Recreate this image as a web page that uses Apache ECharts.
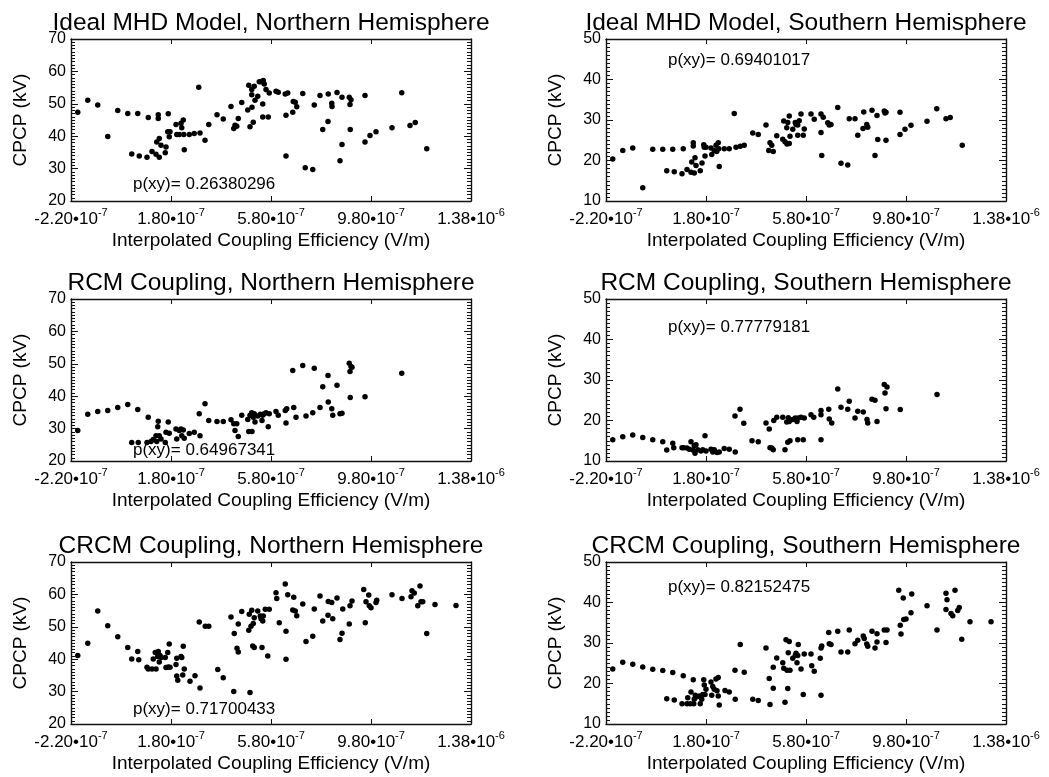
<!DOCTYPE html>
<html><head><meta charset="utf-8">
<script src="https://cdn.jsdelivr.net/npm/echarts@6/dist/echarts.min.js"></script>
<style>html,body{margin:0;padding:0;background:#fff}#c{width:1049px;height:777px}</style>
</head><body><div id="c"></div>
<script>
// x values are given in units of 1e-7 V/m
const X_UNIT = 1e-7;
const xTickValues = [-2.2, 1.8, 5.8, 9.8, 13.8];
const xTickMantissa = ['-2.20', '1.80', '5.80', '9.80', '1.38'];
const xTickExponent = ['-7', '-7', '-7', '-7', '-6'];
const yTicksNorth = [20, 30, 40, 50, 60, 70];
const yTicksSouth = [10, 20, 30, 40, 50];

const panelTitles = [
  'Ideal MHD Model, Northern Hemisphere', 'Ideal MHD Model, Southern Hemisphere',
  'RCM Coupling, Northern Hemisphere', 'RCM Coupling, Southern Hemisphere',
  'CRCM Coupling, Northern Hemisphere', 'CRCM Coupling, Southern Hemisphere'
];
const pLabels = ['0.26380296', '0.69401017', '0.64967341', '0.77779181', '0.71700433', '0.82152475'];
const xAxisName = 'Interpolated Coupling Efficiency (V/m)';
const yAxisName = 'CPCP (kV)';

const mhdNorth = [[-1.93,47.4],[-1.53,51.1],[-1.13,49.6],[-0.73,39.9],[-0.33,47.9],[0.07,47.0],[0.23,34.5],[0.47,47.0],[0.53,33.9],[0.84,33.5],[0.89,45.8],[1.04,35.3],[1.2,34.4],[1.23,38.2],[1.29,46.6],[1.29,45.5],[1.33,33.5],[1.33,39.3],[1.4,37.2],[1.57,34.9],[1.6,36.7],[1.67,41.4],[1.69,46.9],[1.73,39.8],[1.76,41.4],[2.0,43.6],[2.03,40.5],[2.13,40.5],[2.2,44.0],[2.23,42.6],[2.29,45.0],[2.31,40.5],[2.33,35.8],[2.53,40.5],[2.73,40.8],[2.91,55.1],[2.96,41.0],[3.16,38.75],[3.31,43.6],[3.64,46.6],[3.89,45.3],[4.2,49.2],[4.31,42.4],[4.36,43.4],[4.43,43.1],[4.49,45.5],[4.63,50.4],[4.87,48.1],[4.91,55.7],[4.96,42.9],[5.03,54.4],[5.04,48.9],[5.03,52.8],[5.09,44.3],[5.13,55.4],[5.16,51.1],[5.27,52.3],[5.33,56.8],[5.4,56.8],[5.47,49.9],[5.47,45.9],[5.49,57.2],[5.53,56.1],[5.6,54.4],[5.69,45.9],[5.73,53.3],[6.0,53.9],[6.09,53.6],[6.37,53.0],[6.4,46.5],[6.4,33.9],[6.47,53.3],[6.67,47.4],[6.69,50.7],[6.77,50.5],[6.83,49.1],[7.07,53.2],[7.17,30.3],[7.47,29.7],[7.53,49.6],[7.76,52.6],[7.87,42.1],[8.08,44.5],[8.09,53.0],[8.23,50.2],[8.24,49.2],[8.44,53.5],[8.56,32.4],[8.64,52.0],[8.64,37.4],[8.93,52.0],[8.96,49.8],[9.0,51.25],[8.97,42.1],[9.56,52.6],[9.56,38.2],[9.76,40.2],[10.0,41.4],[10.64,42.6],[11.03,53.4],[11.36,43.3],[11.57,44.2],[12.03,36.1]];

const mhdSouth = [[-1.93,20.4],[-1.53,22.5],[-1.13,23.1],[-0.73,13.25],[-0.33,22.8],[0.07,22.75],[0.23,17.5],[0.47,22.75],[0.53,17.25],[0.84,16.75],[0.89,22.9],[1.04,17.75],[1.2,17.1],[1.23,19.6],[1.29,24.4],[1.29,23.6],[1.33,16.9],[1.36,20.7],[1.4,18.75],[1.57,17.5],[1.64,19.4],[1.71,23.9],[1.73,23.3],[1.76,21.1],[1.8,23.3],[2.0,23.1],[2.03,21.5],[2.13,22.5],[2.2,23.75],[2.23,22.25],[2.29,24.4],[2.31,22.9],[2.33,18.5],[2.53,22.9],[2.73,22.9],[2.93,31.6],[3.0,23.3],[3.17,23.5],[3.33,23.75],[3.67,26.8],[3.89,26.4],[4.2,28.75],[4.31,22.5],[4.36,24.4],[4.43,23.75],[4.49,22.25],[4.63,26.1],[4.87,25.25],[4.91,29.75],[4.96,24.6],[5.03,28.1],[5.04,24.1],[5.07,29.4],[5.13,31.0],[5.13,24.2],[5.16,26.0],[5.27,27.7],[5.37,29.4],[5.4,28.9],[5.47,26.25],[5.47,28.75],[5.53,29.8],[5.6,31.5],[5.69,26.25],[5.73,27.75],[6.0,31.5],[6.13,30.2],[6.4,31.5],[6.4,26.9],[6.43,21.25],[6.49,30.7],[6.67,29.3],[6.73,28.75],[6.8,28.9],[7.07,33.1],[7.2,19.3],[7.47,18.9],[7.53,30.3],[7.76,30.3],[7.87,26.25],[8.08,27.9],[8.11,32.0],[8.23,28.9],[8.27,28.2],[8.44,32.4],[8.56,21.25],[8.64,31.1],[8.67,25.2],[8.93,32.25],[8.96,31.7],[9.0,31.9],[9.0,25.0],[9.56,31.9],[9.56,26.4],[9.76,27.7],[10.0,28.7],[10.64,29.7],[11.03,32.75],[11.4,30.3],[11.57,30.6],[12.05,23.75]];

const rcmNorth = [[-1.93,29.4],[-1.53,34.4],[-1.13,35.3],[-0.73,35.6],[-0.33,36.5],[0.07,37.4],[0.23,25.7],[0.47,35.9],[0.49,25.7],[0.84,25.7],[0.89,33.5],[1.0,26.0],[1.09,26.6],[1.2,27.8],[1.23,26.0],[1.27,30.6],[1.29,32.3],[1.33,27.8],[1.4,26.8],[1.57,25.7],[1.6,28.9],[1.69,32.0],[1.73,28.6],[2.0,29.9],[2.03,26.8],[2.13,29.4],[2.2,29.9],[2.23,27.8],[2.29,29.6],[2.33,27.0],[2.53,28.5],[2.73,28.9],[2.93,34.6],[2.96,27.8],[3.16,37.7],[3.31,32.5],[3.64,32.2],[3.89,32.2],[4.2,32.7],[4.31,31.5],[4.36,29.4],[4.43,31.5],[4.49,27.6],[4.63,34.1],[4.87,32.8],[4.91,29.1],[4.96,34.1],[5.03,34.9],[5.04,29.1],[5.09,33.5],[5.13,34.6],[5.16,32.0],[5.27,33.9],[5.37,34.4],[5.44,32.5],[5.47,34.1],[5.53,34.6],[5.6,34.9],[5.69,30.6],[5.73,34.6],[6.0,35.3],[6.09,34.1],[6.37,35.6],[6.4,31.7],[6.43,36.1],[6.67,47.9],[6.71,36.5],[6.8,33.5],[7.07,49.5],[7.2,33.9],[7.47,34.9],[7.53,48.6],[7.76,36.5],[7.87,42.9],[8.08,46.4],[8.09,38.2],[8.23,36.1],[8.27,34.1],[8.44,43.4],[8.56,34.6],[8.64,34.7],[8.93,50.2],[8.96,47.6],[9.0,49.2],[9.04,48.9],[8.97,39.6],[9.56,39.8],[11.03,47.1]];

const rcmSouth = [[-1.93,15.25],[-1.53,16.0],[-1.13,16.4],[-0.73,15.8],[-0.33,15.25],[0.07,14.75],[0.23,12.7],[0.47,14.4],[0.51,13.25],[0.84,13.3],[0.91,13.3],[1.04,13.2],[1.13,12.9],[1.2,14.75],[1.27,12.7],[1.33,13.75],[1.36,11.9],[1.4,14.0],[1.47,12.75],[1.6,12.5],[1.67,12.75],[1.76,16.25],[1.8,12.5],[2.0,12.9],[2.07,12.25],[2.13,12.75],[2.24,12.1],[2.33,12.25],[2.53,13.1],[2.73,12.9],[2.96,21.1],[2.97,12.25],[3.16,22.75],[3.31,19.3],[3.64,15.0],[3.89,14.75],[4.2,19.4],[4.33,17.9],[4.36,13.3],[4.43,13.2],[4.49,12.75],[4.51,20.0],[4.63,20.8],[4.87,20.8],[4.96,12.75],[5.03,19.6],[5.07,14.6],[5.09,20.7],[5.13,19.75],[5.16,15.0],[5.27,20.25],[5.37,20.6],[5.44,19.75],[5.47,15.25],[5.49,20.6],[5.6,20.8],[5.69,15.25],[5.73,20.6],[6.0,21.4],[6.11,20.8],[6.4,22.5],[6.4,21.4],[6.4,15.25],[6.71,22.75],[6.73,20.4],[6.83,19.4],[7.07,27.75],[7.2,23.3],[7.47,22.75],[7.53,24.75],[7.76,20.6],[7.87,22.3],[8.09,22.1],[8.24,20.25],[8.27,19.4],[8.44,25.25],[8.56,25.0],[8.64,19.75],[8.93,28.9],[8.96,26.8],[9.0,22.9],[9.04,28.3],[9.57,22.7],[11.04,26.4]];

const crcmNorth = [[-1.93,41.15],[-1.53,44.9],[-1.13,54.9],[-0.73,50.3],[-0.33,46.9],[0.07,43.6],[0.23,40.1],[0.47,42.4],[0.51,39.8],[0.84,37.5],[0.89,37.0],[1.04,37.0],[1.09,40.1],[1.17,42.1],[1.2,37.0],[1.27,40.8],[1.29,42.4],[1.33,39.1],[1.36,41.15],[1.4,40.5],[1.57,40.5],[1.6,37.4],[1.67,42.1],[1.69,37.6],[1.73,44.7],[1.76,37.5],[2.0,38.4],[2.03,40.3],[2.03,34.8],[2.07,33.5],[2.2,40.8],[2.23,40.5],[2.27,35.1],[2.29,44.0],[2.33,37.0],[2.56,33.2],[2.76,34.9],[2.93,51.5],[2.96,31.1],[3.17,50.2],[3.31,50.2],[3.67,36.8],[3.89,34.3],[4.2,53.0],[4.31,30.0],[4.33,47.9],[4.44,43.4],[4.49,42.2],[4.49,50.9],[4.63,54.7],[4.91,48.9],[4.93,53.9],[4.96,29.7],[5.0,50.2],[5.03,55.1],[5.07,44.1],[5.09,51.0],[5.13,43.6],[5.13,52.8],[5.27,54.9],[5.37,53.3],[5.4,52.5],[5.44,43.6],[5.47,51.8],[5.49,53.3],[5.57,55.4],[5.67,41.0],[5.73,55.4],[6.0,60.5],[6.03,58.75],[6.13,51.25],[6.37,63.2],[6.4,48.6],[6.4,40.0],[6.47,59.9],[6.67,55.2],[6.71,59.1],[6.77,54.9],[6.83,53.4],[7.07,57.0],[7.2,45.5],[7.47,47.1],[7.53,55.5],[7.76,59.5],[7.87,51.8],[8.08,53.6],[8.09,57.8],[8.23,57.5],[8.27,52.5],[8.44,58.9],[8.56,46.1],[8.64,48.0],[8.67,55.5],[8.93,50.9],[8.96,56.5],[9.04,58.0],[9.51,61.5],[9.57,51.25],[9.6,57.7],[9.71,59.8],[9.73,56.5],[9.8,55.9],[10.0,57.5],[10.03,58.2],[10.64,59.9],[11.04,58.75],[11.4,59.3],[11.44,61.1],[11.53,60.4],[11.67,56.5],[11.76,62.6],[11.8,57.7],[11.87,57.7],[12.03,47.9],[12.36,56.9],[13.2,56.6]];

const crcmSouth = [[-1.93,23.6],[-1.53,25.25],[-1.13,24.75],[-0.73,24.1],[-0.33,23.5],[0.07,23.2],[0.23,16.25],[0.47,22.7],[0.53,15.9],[0.84,15.0],[0.89,21.9],[1.04,15.0],[1.07,16.5],[1.17,15.0],[1.2,17.9],[1.29,20.9],[1.31,15.0],[1.33,16.1],[1.37,17.1],[1.44,16.75],[1.53,16.9],[1.57,15.0],[1.63,16.1],[1.67,17.3],[1.71,20.9],[1.73,19.6],[1.76,17.3],[1.8,18.6],[2.0,20.4],[2.03,17.1],[2.07,19.25],[2.13,18.6],[2.2,21.1],[2.24,18.2],[2.29,21.5],[2.33,14.7],[2.29,16.9],[2.56,18.3],[2.73,17.9],[2.96,23.3],[2.97,16.1],[3.17,29.6],[3.33,22.75],[3.67,16.1],[3.89,15.8],[4.2,28.75],[4.33,21.25],[4.36,14.8],[4.49,18.8],[4.49,24.0],[4.63,26.3],[4.87,25.1],[4.91,23.75],[4.96,15.4],[5.0,30.8],[5.04,23.3],[5.07,18.75],[5.09,27.6],[5.13,30.4],[5.16,23.3],[5.27,26.25],[5.37,26.9],[5.4,27.5],[5.44,25.1],[5.47,26.9],[5.49,29.6],[5.6,23.6],[5.69,17.3],[5.73,27.3],[6.0,27.3],[6.03,24.4],[6.13,23.0],[6.37,26.25],[6.4,28.75],[6.4,17.1],[6.43,29.25],[6.71,32.6],[6.73,29.8],[6.8,29.6],[7.07,32.9],[7.2,27.8],[7.47,27.8],[7.53,33.2],[7.76,29.8],[7.87,30.7],[8.09,31.75],[8.13,31.1],[8.23,29.75],[8.27,29.2],[8.44,32.9],[8.56,28.75],[8.64,30.25],[8.64,32.3],[8.93,33.2],[9.0,30.1],[9.04,33.2],[9.51,43.0],[9.57,34.4],[9.6,32.25],[9.69,41.1],[9.71,35.8],[9.8,35.9],[10.0,37.5],[10.03,42.1],[10.64,39.2],[11.04,33.2],[11.4,42.3],[11.44,40.7],[11.4,38.3],[11.6,37.3],[11.67,36.7],[11.76,43.0],[11.87,38.0],[11.93,38.75],[12.03,30.9],[12.36,35.25],[13.2,35.25]];

const panelData = [mhdNorth, mhdSouth, rcmNorth, rcmSouth, crcmNorth, crcmSouth];
const panelYTicks = [yTicksNorth, yTicksSouth, yTicksNorth, yTicksSouth, yTicksNorth, yTicksSouth];

// ---------- layout ----------
const FONT = '"Liberation Sans", Arial, Helvetica, sans-serif';
const colLeft = [71, 606];
const rowTop = [39, 299, 562];
const PW = 400, PH = 162;
const pOffsetY = [145.5, 21.5, 151, 28, 147.5, 25];

const grid = [], xAxis = [], yAxis = [], series = [], graphic = [];
const xMin = xTickValues[0] * X_UNIT, xMax = xTickValues[xTickValues.length - 1] * X_UNIT;
const xCustom = xTickValues.map(v => v * X_UNIT);

function xLabel(v) {
  const i = xTickValues.findIndex(t => Math.abs(t * X_UNIT - v) < 1e-12);
  if (i < 0) return '';
  return '{m|' + xTickMantissa[i] + '•10}{e|' + xTickExponent[i] + '}';
}

for (let p = 0; p < 6; p++) {
  const r = Math.floor(p / 2), c = p % 2;
  const left = colLeft[c], top = rowTop[r];
  grid.push({ left: left, top: top, width: PW, height: PH, containLabel: false });
  const yt = panelYTicks[p];
  const axisLine = { show: true, onZero: false, lineStyle: { color: '#111', width: 1.4 } };
  const tickStyle = { color: '#111', width: 1 };
  // bottom x
  xAxis.push({
    type: 'value', gridIndex: p, min: xMin, max: xMax, position: 'bottom',
    name: xAxisName, nameLocation: 'middle', nameGap: 30,
    nameTextStyle: { fontFamily: FONT, fontSize: 19, color: '#000' },
    axisLine: axisLine, splitLine: { show: false },
    axisTick: { show: true, inside: true, length: 5, customValues: xCustom, lineStyle: tickStyle },
    axisLabel: {
      show: true, customValues: xCustom, margin: 6, formatter: xLabel, color: '#000',
      rich: {
        m: { fontFamily: FONT, fontSize: 17, color: '#000', verticalAlign: 'bottom', lineHeight: 21 },
        e: { fontFamily: FONT, fontSize: 11, color: '#000', verticalAlign: 'top', lineHeight: 21, padding: [0, 0, 9, 0] }
      }
    }
  });
  // top x (mirror)
  xAxis.push({
    type: 'value', gridIndex: p, min: xMin, max: xMax, position: 'top',
    axisLine: axisLine, splitLine: { show: false },
    axisTick: { show: true, inside: true, length: 5, customValues: xCustom, lineStyle: tickStyle },
    axisLabel: { show: false }
  });
  // left y
  yAxis.push({
    type: 'value', gridIndex: p, min: yt[0], max: yt[yt.length - 1], interval: 10, position: 'left',
    name: yAxisName, nameLocation: 'middle', nameGap: 41, nameRotate: 90,
    nameTextStyle: { fontFamily: FONT, fontSize: 19, color: '#000' },
    axisLine: axisLine, splitLine: { show: false },
    axisTick: { show: true, inside: true, length: 7, lineStyle: tickStyle },
    minorTick: { show: true, splitNumber: 10, length: 4, lineStyle: tickStyle },
    axisLabel: { show: true, margin: 5, fontFamily: FONT, fontSize: 16, color: '#000' }
  });
  // right y (mirror)
  yAxis.push({
    type: 'value', gridIndex: p, min: yt[0], max: yt[yt.length - 1], interval: 10, position: 'right',
    axisLine: axisLine, splitLine: { show: false },
    axisTick: { show: true, inside: true, length: 7, lineStyle: tickStyle },
    minorTick: { show: true, splitNumber: 10, length: 4, lineStyle: tickStyle },
    axisLabel: { show: false }
  });
  series.push({
    type: 'scatter', xAxisIndex: 2 * p, yAxisIndex: 2 * p,
    symbol: 'circle', symbolSize: 5.5, itemStyle: { color: '#000', opacity: 1 },
    data: panelData[p].map(d => [d[0] * X_UNIT, d[1]]),
    silent: true, animation: false
  });
  graphic.push({
    type: 'text', x: left + PW / 2, y: top - 28,
    style: { text: panelTitles[p], fontFamily: FONT, fontSize: 24.5, fill: '#000', textAlign: 'center', textVerticalAlign: 'top' }
  });
  graphic.push({
    type: 'text', x: left + 62, y: top + pOffsetY[p], z: 100,
    style: { text: 'p(xy)= ' + pLabels[p], fontFamily: FONT, fontSize: 17, fill: '#000', textAlign: 'left', textVerticalAlign: 'middle' }
  });
}

const chart = echarts.init(document.getElementById('c'), null, { renderer: 'canvas' });
chart.setOption({
  backgroundColor: '#fff',
  animation: false,
  grid: grid, xAxis: xAxis, yAxis: yAxis, series: series, graphic: graphic
});
</script>
</body></html>
